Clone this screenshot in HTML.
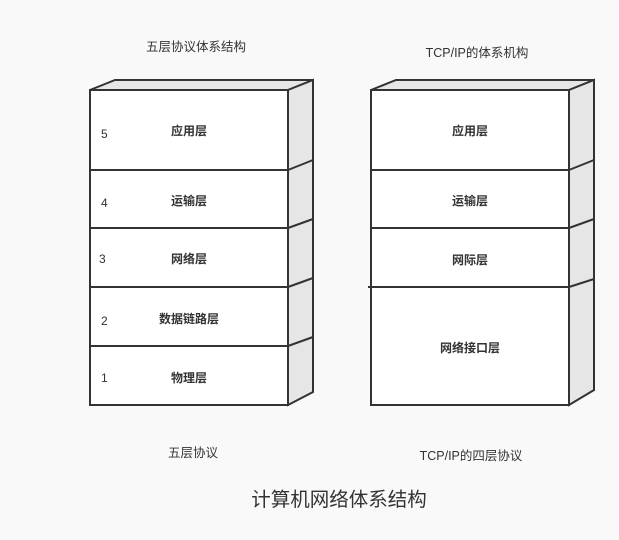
<!DOCTYPE html>
<html><head><meta charset="utf-8"><style>
html,body{margin:0;padding:0;background:#f9f9f9;}
svg{display:block;}
text{font-family:"Liberation Sans","Noto Sans CJK SC",sans-serif;fill:#333;}
</style></head><body>
<svg width="619" height="540" viewBox="0 0 619 540" xmlns="http://www.w3.org/2000/svg">
<g stroke="#333" stroke-width="2" stroke-linejoin="miter">
<polygon points="90,90 115,80 313,80 288,90" fill="#e6e6e6"/>
<polygon points="288,90 313,80 313,392 288,405" fill="#e6e6e6"/>
<rect x="90" y="90" width="198" height="315" fill="#fff"/>
<line x1="90" y1="170" x2="288" y2="170"/><line x1="288" y1="170" x2="313" y2="160"/>
<line x1="90" y1="228" x2="288" y2="228"/><line x1="288" y1="228" x2="313" y2="219"/>
<line x1="90" y1="287" x2="288" y2="287"/><line x1="288" y1="287" x2="313" y2="278"/>
<line x1="90" y1="346" x2="288" y2="346"/><line x1="288" y1="346" x2="313" y2="337"/>
<polygon points="371,90 396,80 594,80 569,90" fill="#e6e6e6"/>
<polygon points="569,90 594,80 594,390 569,405" fill="#e6e6e6"/>
<rect x="371" y="90" width="198" height="315" fill="#fff"/>
<line x1="371" y1="170" x2="569" y2="170"/><line x1="569" y1="170" x2="594" y2="160"/>
<line x1="371" y1="228" x2="569" y2="228"/><line x1="569" y1="228" x2="594" y2="219"/>
<line x1="368" y1="287" x2="569" y2="287"/><line x1="569" y1="287" x2="594" y2="279"/>
</g>
<g font-size="12.5" text-anchor="middle">
<text x="196" y="51">五层协议体系结构</text>
<text x="477" y="57">TCP/IP的体系机构</text>
<text x="193" y="457">五层协议</text>
<text x="471" y="460">TCP/IP的四层协议</text>
</g>
<g font-size="12" text-anchor="middle" font-weight="bold">
<text x="189" y="135">应用层</text>
<text x="189" y="205">运输层</text>
<text x="189" y="263">网络层</text>
<text x="189" y="323">数据链路层</text>
<text x="189" y="382">物理层</text>
<text x="470" y="135">应用层</text>
<text x="470" y="205">运输层</text>
<text x="470" y="264">网际层</text>
<text x="470" y="352">网络接口层</text>
</g>
<g font-size="12">
<text x="101" y="138">5</text>
<text x="101" y="207">4</text>
<text x="99" y="263">3</text>
<text x="101" y="325">2</text>
<text x="101" y="382">1</text>
</g>
<text x="339" y="506" font-size="19.5" text-anchor="middle">计算机网络体系结构</text>
</svg>
</body></html>
